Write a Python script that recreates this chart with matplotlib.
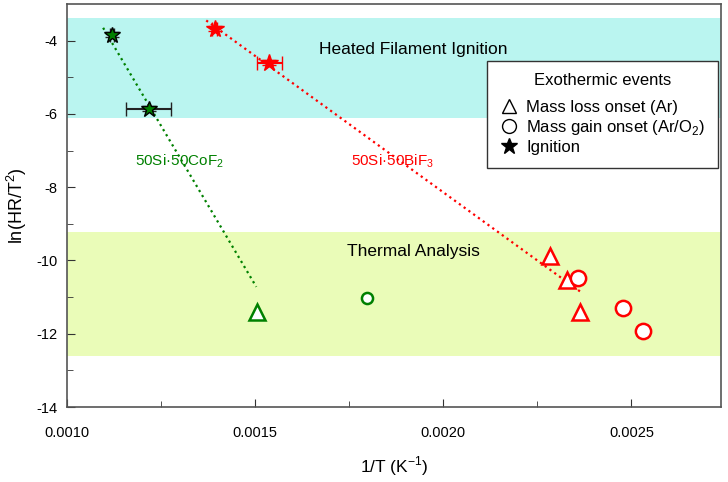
import matplotlib
matplotlib.use("Agg")
import matplotlib.pyplot as plt
from matplotlib.lines import Line2D

plt.rcParams['font.family'] = ['Liberation Sans', 'DejaVu Sans']
plt.rcParams['mathtext.fontset'] = 'custom'
plt.rcParams['mathtext.rm'] = 'Liberation Sans'
plt.rcParams['axes.unicode_minus'] = False

# Data
co_star_x = [0.001119, 0.001217]
co_star_y = [-3.84, -5.86]
co_star_xerr = [0.000006, 0.00006]
co_tri_x = [0.001506]
co_tri_y = [-11.41]
co_circ_x = [0.001796]
co_circ_y = [-11.02]
co_fit_x = [0.001096, 0.001503]
co_fit_y = [-3.65, -10.72]

bi_star_x = [0.001392, 0.001538]
bi_star_y = [-3.67, -4.60]
bi_star_xerr = [0.000006, 0.000034]
bi_tri_x = [0.002284, 0.002329, 0.002363]
bi_tri_y = [-9.88, -10.53, -11.42]
bi_circ_x = [0.002357, 0.002478, 0.002532]
bi_circ_y = [-10.47, -11.31, -11.93]
bi_fit_x = [0.00137, 0.002364]
bi_fit_y = [-3.45, -10.85]

ignition_band = (-6.1, -3.37)
thermal_band = (-12.6, -9.23)

GREEN = '#008000'
RED = '#ff0000'

fig = plt.figure(figsize=(7.28, 4.82), dpi=100)
ax = fig.add_axes([67/728, 1 - 407/482, (721 - 67)/728, (407 - 4)/482])

ax.axhspan(*ignition_band, color='#baf5f0', zorder=0, lw=0)
ax.axhspan(*thermal_band, color='#eafcb8', zorder=0, lw=0)

ax.text(0.00192, -4.23, 'Heated Filament Ignition', fontsize=12.5, ha='center', va='center')
ax.text(0.00192, -9.75, 'Thermal Analysis', fontsize=12.5, ha='center', va='center')

# fit lines
ax.plot(co_fit_x, co_fit_y, ls=':', color=GREEN, lw=1.6, zorder=2)
ax.plot(bi_fit_x, bi_fit_y, ls=':', color=RED, lw=1.6, zorder=2)

ax.text(0.001300, -7.28, '50Si·50CoF$_2$', color=GREEN, fontsize=11, ha='center', va='center')
ax.text(0.001865, -7.28, '50Si·50BiF$_3$', color=RED, fontsize=11, ha='center', va='center')

# stars
ax.errorbar(co_star_x, co_star_y, xerr=co_star_xerr, yerr=0.07, fmt='*', ms=12,
            mfc=GREEN, mec='black', mew=1, ecolor='#222222', elinewidth=1.5, capsize=5, zorder=4)
ax.errorbar(bi_star_x, bi_star_y, xerr=bi_star_xerr, yerr=0.07, fmt='*', ms=13,
            mfc=RED, mec=RED, mew=1, ecolor=RED, elinewidth=1.5, capsize=5, zorder=4)

# triangles and circles
ax.plot(co_tri_x, co_tri_y, ls='none', marker='^', ms=11, mfc='white', mec=GREEN, mew=1.8, zorder=3)
ax.plot(co_circ_x, co_circ_y, ls='none', marker='o', ms=8, mfc='white', mec=GREEN, mew=1.8, zorder=3)
ax.plot(bi_tri_x, bi_tri_y, ls='none', marker='^', ms=11, mfc='white', mec=RED, mew=1.8, zorder=3)
ax.plot(bi_circ_x, bi_circ_y, ls='none', marker='o', ms=11, mfc='white', mec=RED, mew=1.8, zorder=3)

ax.set_xlim(0.001, 0.002738)
ax.set_ylim(-14, -3)
ax.set_xticks([0.0010, 0.0015, 0.0020, 0.0025])
ax.set_xticklabels(['0.0010', '0.0015', '0.0020', '0.0025'])
ax.set_xticks([0.00125, 0.00175, 0.00225], minor=True)
ax.set_yticks([-14, -12, -10, -8, -6, -4])
ax.set_yticks([-13, -11, -9, -7, -5], minor=True)
ax.tick_params(which='both', direction='in', color='#333333', labelsize=10.5)
ax.tick_params(axis='x', which='major', pad=14)
ax.tick_params(axis='y', which='major', pad=7)
ax.tick_params(which='major', length=6)
ax.tick_params(which='minor', length=4)
for s in ax.spines.values():
    s.set_color('#555555')
    s.set_linewidth(1.2)

ax.set_xlabel('1/T (K$^{-1}$)', fontsize=12.5, labelpad=10)
ax.set_ylabel('ln(HR/T$^2$)', fontsize=13, labelpad=5)

handles = [
    Line2D([], [], ls='none', marker='^', ms=10, mfc='white', mec='black', mew=1),
    Line2D([], [], ls='none', marker='o', ms=10, mfc='white', mec='black', mew=1),
    Line2D([], [], ls='none', marker='*', ms=12, mfc='black', mec='black'),
]
labels = ['Mass loss onset (Ar)', 'Mass gain onset (Ar/O$_2$)', 'Ignition']
leg = ax.legend(handles, labels, title='Exothermic events', loc='upper right',
                bbox_to_anchor=(1.0, 0.867), fontsize=12, title_fontsize=12,
                frameon=True, fancybox=False, shadow=False, framealpha=1,
                edgecolor='#333333', handletextpad=0.4, handlelength=1.2,
                borderaxespad=0.2, labelspacing=0.2, borderpad=0.75)
leg.get_frame().set_linewidth(1.0)
leg._legend_box.sep = 8

fig.savefig('out.png', dpi=100)
